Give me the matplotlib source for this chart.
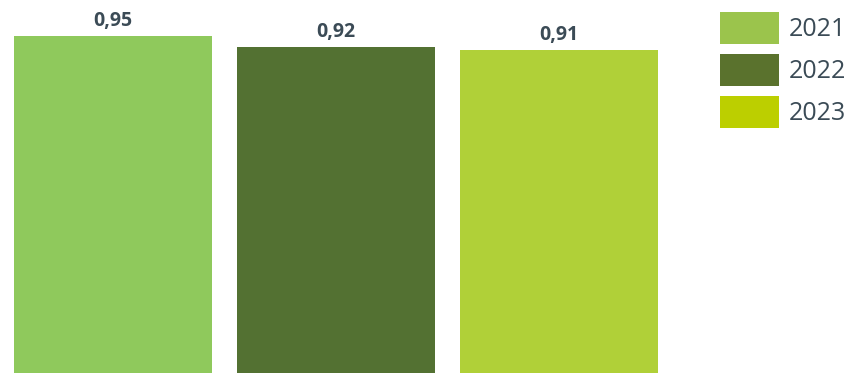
import matplotlib.pyplot as plt
from matplotlib.patches import Patch

# Data
years = ["2021", "2022", "2023"]
values = [0.95, 0.92, 0.91]
labels = ["0,95", "0,92", "0,91"]
bar_colours = ["#8fc95c", "#537132", "#b0d038"]
legend_colours = ["#9bc44c", "#5a722d", "#bccf00"]
text_colour = "#3b4b56"

plt.rcParams['font.family'] = ['Open Sans', 'DejaVu Sans']

fig = plt.figure(figsize=(8.52, 3.73), dpi=100)
ax = fig.add_axes([14 / 852, 0, 644 / 852, 1])

x = range(len(values))
ax.bar(x, values, width=198 / 223, color=bar_colours)

for xi, v, lab in zip(x, values, labels):
    ax.annotate(lab, (xi, v), xytext=(0, 3.5), textcoords="offset points",
                ha="center", va="bottom", fontsize=14, fontweight="bold",
                color=text_colour)

ax.set_xlim(-0.444, 2.444)
ax.set_ylim(0, 373 / 354.7)
ax.axis("off")

handles = [Patch(facecolor=c, edgecolor="none") for c in legend_colours]
fig.legend(handles, years, loc="upper left", bbox_to_anchor=(720 / 852, 1 - 12 / 373),
           frameon=False, fontsize=18, labelcolor=text_colour,
           handlelength=2.35, handleheight=1.6, labelspacing=0.4,
           handletextpad=0.4, borderpad=0, borderaxespad=0)

fig.savefig("out.png", dpi=100)
